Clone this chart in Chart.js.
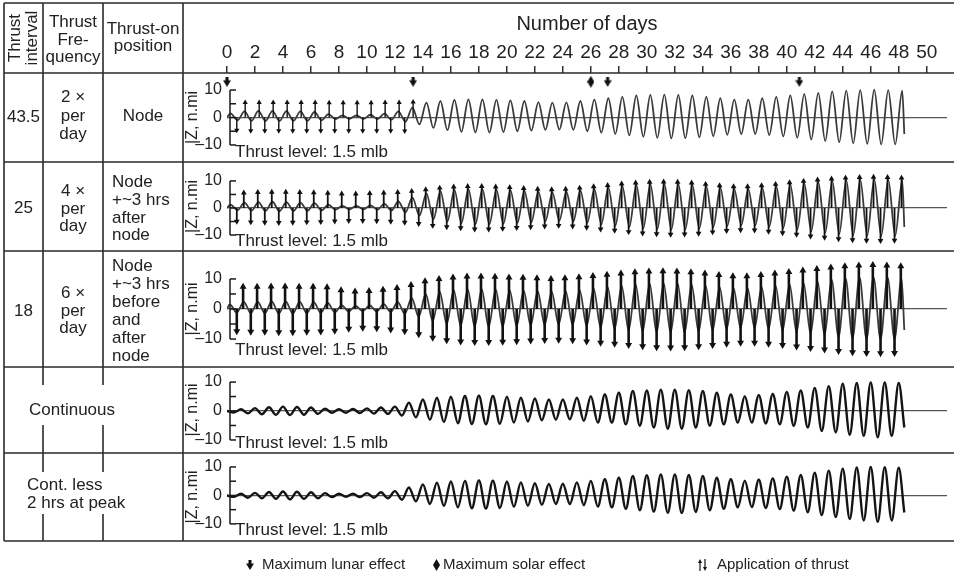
<!DOCTYPE html>
<html>
<head>
<meta charset="utf-8">
<script src="https://cdn.jsdelivr.net/npm/chart.js@4.4.1/dist/chart.umd.min.js"></script>
<style>
  html, body { margin: 0; padding: 0; background: #fff; }
  canvas { display: block; }
</style>
</head>
<body>
<canvas id="c" width="954" height="577" style="width:954px;height:577px"></canvas>
<script>
// x axis tick labels (days)
const dayTicks = [0, 2, 4, 6, 8, 10, 12, 14, 16, 18, 20, 22, 24, 26, 28, 30, 32, 34, 36, 38, 40, 42, 44, 46, 48, 50];

// left-hand table cells
const rowInterval = ['43.5', '25', '18'];
const rowFrequency = [['2 \u00d7', 'per', 'day'], ['4 \u00d7', 'per', 'day'], ['6 \u00d7', 'per', 'day']];
const rowPosition = [['Node'], ['Node', '+~3 hrs', 'after', 'node'], ['Node', '+~3 hrs', 'before', 'and', 'after', 'node']];
const rowMerged = [['Continuous'], ['Cont. less', '2 hrs at peak']];

// peak (at day n) and trough (half a day later) of |Z| in n.mi, one per day 0..48
const peaks1 = [1.5, 2.2, 2.4, 2.4, 2.3, 2.2, 2.0, 1.2, 0.8, 0.8, 1.0, 1.4, 2.2, 3.6, 5.4, 6.0, 6.4, 6.6, 6.6, 6.4, 6.2, 6.0, 5.6, 5.4, 5.5, 6.0, 6.5, 7.0, 7.5, 8.0, 8.2, 8.3, 8.2, 8.0, 7.5, 7.0, 6.5, 6.5, 7.0, 7.5, 8.0, 8.5, 9.0, 9.5, 9.8, 10.0, 10.1, 10.0, 9.8];
const troughs1 = [-1.0, -1.2, -1.3, -1.3, -1.2, -1.2, -1.0, -0.6, -0.5, -0.5, -0.6, -0.8, -1.5, -2.5, -3.8, -4.6, -5.2, -5.5, -5.5, -5.3, -5.0, -4.8, -4.5, -4.4, -4.5, -5.0, -5.5, -6.0, -6.5, -7.0, -7.4, -7.6, -7.5, -7.2, -6.8, -6.3, -6.0, -6.0, -6.4, -6.9, -7.4, -8.0, -8.5, -9.0, -9.4, -9.6, -9.8, -9.8, -6.0];
const peaks2 = [1.2, 2.0, 2.2, 2.3, 2.2, 2.0, 1.8, 1.2, 0.8, 0.8, 1.0, 1.5, 2.4, 3.8, 5.4, 6.2, 6.7, 7.0, 7.0, 6.8, 6.6, 6.3, 6.0, 5.8, 6.0, 6.5, 7.0, 7.6, 8.1, 8.5, 8.8, 8.9, 8.8, 8.5, 8.0, 7.5, 7.0, 7.0, 7.4, 8.0, 8.6, 9.1, 9.6, 10.0, 10.3, 10.5, 10.6, 10.5, 10.3];
const troughs2 = [-0.8, -1.0, -1.1, -1.2, -1.1, -1.0, -0.9, -0.6, -0.5, -0.5, -0.6, -0.9, -1.6, -2.8, -4.2, -5.0, -5.6, -6.0, -6.0, -5.8, -5.5, -5.2, -4.9, -4.7, -4.9, -5.4, -6.0, -6.5, -7.0, -7.5, -7.8, -8.0, -7.9, -7.6, -7.1, -6.6, -6.3, -6.4, -6.9, -7.4, -8.0, -8.6, -9.1, -9.6, -10.0, -10.2, -10.3, -10.2, -7.0];
const peaks3 = [1.5, 2.4, 2.4, 2.5, 2.5, 2.4, 2.3, 2.0, 1.2, 1.0, 1.2, 1.6, 2.4, 3.6, 5.0, 5.8, 6.3, 6.5, 6.6, 6.5, 6.3, 6.1, 5.9, 5.8, 5.9, 6.3, 6.8, 7.3, 7.8, 8.2, 8.5, 8.6, 8.5, 8.2, 7.8, 7.3, 6.9, 6.9, 7.3, 7.8, 8.3, 8.8, 9.3, 9.8, 10.2, 10.5, 10.6, 10.5, 10.2];
const troughs3 = [-1.2, -1.4, -1.4, -1.5, -1.5, -1.4, -1.3, -1.1, -0.8, -0.7, -0.8, -1.0, -1.6, -2.6, -4.0, -5.0, -5.6, -5.9, -6.0, -5.9, -5.7, -5.5, -5.3, -5.2, -5.3, -5.7, -6.2, -6.7, -7.2, -7.6, -7.9, -8.0, -7.9, -7.6, -7.2, -6.8, -6.4, -6.4, -6.8, -7.3, -7.8, -8.3, -8.8, -9.3, -9.7, -10.0, -10.1, -10.0, -7.0];
const peaks4 = [0, 0.6, 1.0, 1.3, 1.5, 1.4, 1.2, 0.8, 0.6, 0.7, 0.9, 1.2, 1.5, 2.9, 4.0, 4.6, 4.9, 5.2, 5.3, 5.2, 4.9, 4.6, 4.3, 4.0, 4.0, 4.6, 5.1, 5.7, 6.3, 6.9, 7.1, 7.4, 7.4, 7.2, 6.9, 6.3, 5.7, 5.1, 5.5, 5.9, 6.6, 7.1, 8.0, 8.6, 9.4, 9.7, 9.9, 9.9, 9.7];
const troughs4 = [-0.5, -0.8, -1.1, -1.3, -1.4, -1.3, -1.0, -0.6, -0.6, -0.7, -0.9, -1.0, -1.6, -2.2, -3.0, -3.8, -4.2, -4.5, -4.6, -4.4, -4.0, -3.6, -3.2, -3.0, -2.9, -3.4, -4.0, -4.0, -4.6, -5.1, -5.7, -6.1, -6.1, -5.7, -5.1, -4.6, -4.0, -4.0, -4.3, -4.6, -5.1, -5.7, -6.9, -7.4, -8.2, -8.6, -9.1, -8.6, -5.7];
const peaks5 = [0, 0.6, 0.9, 1.2, 1.4, 1.3, 1.1, 0.8, 0.6, 0.6, 0.8, 1.1, 1.5, 2.8, 3.9, 4.5, 4.9, 5.1, 5.3, 5.2, 4.9, 4.6, 4.3, 4.0, 4.1, 4.6, 5.1, 5.7, 6.2, 6.8, 7.1, 7.4, 7.4, 7.2, 6.8, 6.2, 5.7, 5.2, 5.5, 6.0, 6.6, 7.2, 8.0, 8.7, 9.4, 9.8, 10.0, 9.9, 9.7];
const troughs5 = [-0.5, -0.8, -1.0, -1.2, -1.4, -1.2, -1.0, -0.6, -0.5, -0.6, -0.8, -1.0, -1.5, -2.1, -3.0, -3.7, -4.2, -4.5, -4.6, -4.4, -4.0, -3.6, -3.3, -3.0, -3.0, -3.4, -3.9, -4.2, -4.7, -5.2, -5.7, -6.1, -6.2, -5.8, -5.2, -4.7, -4.2, -4.1, -4.4, -4.8, -5.3, -5.9, -6.9, -7.6, -8.3, -8.8, -9.3, -8.8, -6.0];

// thrust application marks: tip of each up / down mark per day (n.mi)
const thrustUp1 = [null, 5.5, 5.5, 5.5, 5.5, 5.5, 5.5, 5.4, 5.4, 5.4, 5.4, 5.5, 5.5, 5.6];
const thrustDown1 = [-4.6, -4.8, -4.8, -4.8, -4.8, -4.8, -4.8, -4.8, -4.8, -4.8, -4.8, -4.8, -4.9];
const thrustUp2 = [null, 5.6, 5.8, 5.9, 5.9, 5.8, 5.7, 5.5, 5.2, 5.2, 5.4, 5.6, 5.8, 6.2, 6.8, 7.4, 7.8, 8.0, 8.0, 7.8, 7.6, 7.3, 7.0, 6.8, 7.0, 7.4, 7.9, 8.4, 8.9, 9.3, 9.6, 9.7, 9.6, 9.3, 8.8, 8.3, 7.9, 7.9, 8.3, 8.8, 9.4, 9.9, 10.4, 10.8, 11.1, 11.3, 11.4, 11.3, 11.1];
const thrustDown2 = [-5.0, -5.2, -5.3, -5.4, -5.3, -5.2, -5.1, -4.9, -4.7, -4.7, -4.8, -5.0, -5.3, -5.8, -6.5, -7.0, -7.4, -7.8, -7.8, -7.6, -7.3, -7.0, -6.7, -6.5, -6.7, -7.2, -7.8, -8.3, -8.8, -9.3, -9.6, -9.8, -9.7, -9.4, -8.9, -8.4, -8.1, -8.2, -8.7, -9.2, -9.8, -10.4, -10.9, -11.4, -11.8, -12.0, -12.1, -12.0];
const thrustUp3 = [null, 7.4, 7.4, 7.5, 7.5, 7.4, 7.4, 7.2, 6.2, 5.8, 6.0, 6.4, 7.0, 8.0, 9.2, 10.0, 10.5, 10.8, 10.8, 10.7, 10.5, 10.4, 10.2, 10.0, 10.2, 10.6, 11.0, 11.4, 11.8, 12.2, 12.5, 12.6, 12.5, 12.2, 11.8, 11.3, 10.9, 10.9, 11.3, 11.8, 12.3, 12.8, 13.3, 13.8, 14.2, 14.5, 14.6, 14.5, 14.2];
const thrustDown3 = [-7.4, -7.6, -7.6, -7.7, -7.7, -7.6, -7.5, -7.2, -6.6, -6.2, -6.4, -6.8, -7.4, -8.4, -9.6, -10.4, -10.8, -11.0, -11.0, -10.9, -10.7, -10.5, -10.3, -10.2, -10.4, -10.8, -11.2, -11.6, -12.0, -12.4, -12.7, -12.8, -12.7, -12.4, -12.0, -11.6, -11.2, -11.2, -11.6, -12.0, -12.5, -13.0, -13.5, -14.0, -14.4, -14.6, -14.7, -14.6];

// effect markers above the first row
const lunarDays = [0, 13.3, 27.2, 40.9];
const solarDays = [26.0];
const markerLevel = 13;

// ---- layout ----
const FONT = "'Liberation Sans', Arial, Helvetica, sans-serif";
const INK = '#222';
const rowWeights = [89, 89, 116, 86, 88];
const yMax = [16.2, 17.0, 19.3, 15.2, 14.9];
const yMin = [-16.2, -15.9, -19.3, -14.5, -16.0];
const peakPhase = [0.25, 0.25, 0.2, 0, 0];
const upOffset = [0.3, 0.2, 0.15];
const downOffset = [0.7, 0.7, 0.7];
const endDay = 48.4;

const rowPeaks = [peaks1, peaks2, peaks3, peaks4, peaks5];
const rowTroughs = [troughs1, troughs2, troughs3, troughs4, troughs5];
const rowUp = [thrustUp1, thrustUp2, thrustUp3];
const rowDown = [thrustDown1, thrustDown2, thrustDown3];

function wavePoints(peaks, troughs, phase) {
    const pts = [];
    if (phase > 0) pts.push({ x: 0, y: 0 });
    peaks.forEach((p, n) => {
        pts.push({ x: n + phase, y: p });
        pts.push({ x: Math.min(n + phase + 0.5, endDay), y: troughs[n] });
    });
    return pts;
}

function markLines(tips, offset) {
    const pts = [];
    tips.forEach((h, n) => {
        if (h === null) return;
        pts.push({ x: n + offset, y: 0 }, { x: n + offset, y: h }, { x: n + offset, y: null });
    });
    return pts;
}

function markTips(tips, offset) {
    return tips.map((h, n) => (h === null ? null : { x: n + offset, y: h })).filter(Boolean);
}

function makeIcon(w, h, draw) {
    const c = document.createElement('canvas');
    c.width = w; c.height = h;
    const g = c.getContext('2d');
    g.fillStyle = '#111';
    draw(g);
    return c;
}
const lunarIcon = makeIcon(8, 10, g => {
    g.fillRect(2.5, 0, 3, 4);
    g.beginPath(); g.moveTo(0, 3.5); g.lineTo(8, 3.5); g.lineTo(4, 10); g.closePath(); g.fill();
});
const solarIcon = makeIcon(7, 12, g => {
    g.beginPath(); g.moveTo(3.5, 0); g.lineTo(7, 6); g.lineTo(3.5, 12); g.lineTo(0, 6); g.closePath(); g.fill();
});

const datasets = [];
rowPeaks.forEach((peaks, i) => {
    const yId = 'y' + i;
    const bold = i >= 3;
    datasets.push({
        type: 'line', yAxisID: yId, order: 3,
        data: wavePoints(peaks, rowTroughs[i], peakPhase[i]),
        borderColor: bold ? '#141414' : '#3a3a3a', borderWidth: bold ? 2.4 : 1.8,
        pointRadius: 0, cubicInterpolationMode: 'monotone', fill: false
    });
    if (i < 3) {
        const lw = [1.4, 1.8, 2.6][i];
        const r = [3, 3.3, 4][i];
        datasets.push({
            type: 'line', yAxisID: yId, order: 1,
            data: markLines(rowUp[i], upOffset[i]).concat(markLines(rowDown[i], downOffset[i])),
            borderColor: '#111', borderWidth: lw, pointRadius: 0, spanGaps: false, tension: 0
        });
        datasets.push({
            type: 'scatter', yAxisID: yId, order: 1,
            data: markTips(rowUp[i], upOffset[i]),
            pointStyle: 'triangle', pointRadius: r, pointRotation: 0,
            backgroundColor: '#111', borderWidth: 0
        });
        datasets.push({
            type: 'scatter', yAxisID: yId, order: 1,
            data: markTips(rowDown[i], downOffset[i]),
            pointStyle: 'triangle', pointRadius: r, pointRotation: 180,
            backgroundColor: '#111', borderWidth: 0
        });
    }
});
datasets.push({
    type: 'scatter', yAxisID: 'y0', order: 0, clip: false,
    data: lunarDays.map(d => ({ x: d, y: markerLevel })),
    pointStyle: lunarIcon, pointRadius: 5
});
datasets.push({
    type: 'scatter', yAxisID: 'y0', order: 0, clip: false,
    data: solarDays.map(d => ({ x: d, y: markerLevel })),
    pointStyle: solarIcon, pointRadius: 6
});

const scales = {
    x: {
        type: 'linear', position: 'top', min: 0, max: 51.45,
        afterBuildTicks: s => { s.ticks = dayTicks.map(v => ({ value: v })); },
        afterFit: s => { s.height = 73; },
        ticks: { font: { family: FONT, size: 19 }, color: INK, padding: 2, maxRotation: 0, autoSkip: false },
        grid: { drawOnChartArea: false, drawTicks: true, tickLength: 7, color: '#333', lineWidth: 1.5 },
        border: { display: false },
        title: { display: true, text: 'Number of days', font: { family: FONT, size: 20 }, color: INK, padding: { top: 12, bottom: 0 } }
    }
};
rowWeights.forEach((w, i) => {
    scales['y' + i] = {
        type: 'linear', position: 'left', stack: 'rows', stackWeight: w, weight: 10 - i,
        min: yMin[i], max: yMax[i],
        afterBuildTicks: s => { s.ticks = [10, 0, -10].map(v => ({ value: v })); },
        afterFit: s => { s.width = 44; },
        ticks: {
            font: { family: FONT, size: 16 }, color: INK, padding: 5,
            callback: v => (v < 0 ? '\u2013' + (-v) : String(v))
        },
        grid: {
            drawTicks: false, lineWidth: 1.2,
            color: ctx => (ctx.tick && ctx.tick.value === 0 ? '#555' : 'rgba(0,0,0,0)')
        },
        border: { display: false },
        title: { display: true, text: '|Z, n.mi', font: { family: FONT, size: 16 }, color: INK, padding: 0 }
    };
});

function textLines(g, lines, x, yList) {
    lines.forEach((t, k) => g.fillText(t, x, yList[k]));
}

const tablePlugin = {
    id: 'table',
    afterDraw(chart) {
        const g = chart.ctx;
        const ys = [0, 1, 2, 3, 4].map(i => chart.scales['y' + i]);
        const headBottom = chart.scales.x.bottom;
        const tableBottom = ys[4].bottom;
        const W = chart.width;
        g.save();
        g.strokeStyle = '#2a2a2a';
        g.lineWidth = 1.6;
        const line = (x1, y1, x2, y2) => { g.beginPath(); g.moveTo(x1, y1); g.lineTo(x2, y2); g.stroke(); };
        line(4, 3, W, 3);
        line(4, headBottom, W, headBottom);
        ys.forEach(s => line(4, s.bottom, W, s.bottom));
        line(4, 3, 4, tableBottom);
        line(43, 3, 43, tableBottom);
        line(103, 3, 103, tableBottom);
        line(183, 3, 183, tableBottom);

        // y axis brackets
        g.strokeStyle = '#1a1a1a';
        g.lineWidth = 1.5;
        const ax = chart.chartArea.left + 3;
        ys.forEach(s => {
            line(ax, s.getPixelForValue(10), ax, s.getPixelForValue(-10));
            [10, 5, 0, -5, -10].forEach(v => line(ax, s.getPixelForValue(v), ax + 6, s.getPixelForValue(v)));
        });

        // white breaks behind merged-cell text
        g.fillStyle = '#fff';
        g.fillRect(22, 385, 100, 40);
        g.fillRect(22, 472, 128, 42);

        g.fillStyle = INK;
        g.font = '17px ' + FONT;
        g.textBaseline = 'middle';
        g.textAlign = 'center';
        // header
        g.save();
        g.translate(23.5, 38);
        g.rotate(-Math.PI / 2);
        g.fillText('Thrust', 0, -8.5);
        g.fillText('interval', 0, 8.5);
        g.restore();
        textLines(g, ['Thrust', 'Fre-', 'quency'], 73, [22, 40, 57]);
        textLines(g, ['Thrust-on', 'position'], 143, [29, 46]);

        const intervalY = [117, 208, 311];
        const freqY = [[97, 116, 134], [191, 209, 226], [293, 311, 328]];
        const posY = [[116], [182, 200, 218, 235], [266, 284, 302, 320, 338, 356]];
        rowInterval.forEach((t, i) => {
            g.textAlign = 'center';
            g.fillText(t, 23.5, intervalY[i]);
            textLines(g, rowFrequency[i], 73, freqY[i]);
            if (i === 0) {
                textLines(g, rowPosition[i], 143, posY[i]);
            } else {
                g.textAlign = 'left';
                textLines(g, rowPosition[i], 112, posY[i]);
            }
        });
        g.textAlign = 'center';
        g.fillText(rowMerged[0][0], 72, 410);
        g.textAlign = 'left';
        textLines(g, rowMerged[1], 27, [485, 503]);

        // thrust level notes
        const noteY = [152, 241, 350, 443, 530];
        noteY.forEach(y => g.fillText('Thrust level: 1.5 mlb', 235, y));

        // legend
        g.font = '15px ' + FONT;
        const ly = 565;
        g.drawImage(lunarIcon, 246, ly - 5);
        g.fillText('Maximum lunar effect', 262, ly);
        g.drawImage(solarIcon, 433, ly - 6);
        g.fillText('Maximum solar effect', 443, ly);
        g.strokeStyle = '#111';
        g.lineWidth = 1.2;
        g.fillStyle = '#111';
        line(700, ly - 3, 700, ly + 6);
        g.beginPath(); g.moveTo(698, ly - 2); g.lineTo(702, ly - 2); g.lineTo(700, ly - 6); g.closePath(); g.fill();
        line(705, ly - 6, 705, ly + 3);
        g.beginPath(); g.moveTo(703, ly + 2); g.lineTo(707, ly + 2); g.lineTo(705, ly + 6); g.closePath(); g.fill();
        g.fillStyle = INK;
        g.fillText('Application of thrust', 717, ly);
        g.restore();
    }
};

new Chart(document.getElementById('c'), {
    type: 'line',
    data: { datasets },
    options: {
        responsive: false,
        animation: false,
        devicePixelRatio: 1,
        layout: { padding: { left: 183, right: 0, top: 0, bottom: 36 } },
        plugins: { legend: { display: false }, tooltip: { enabled: false } },
        scales
    },
    plugins: [tablePlugin]
});
</script>
</body>
</html>
